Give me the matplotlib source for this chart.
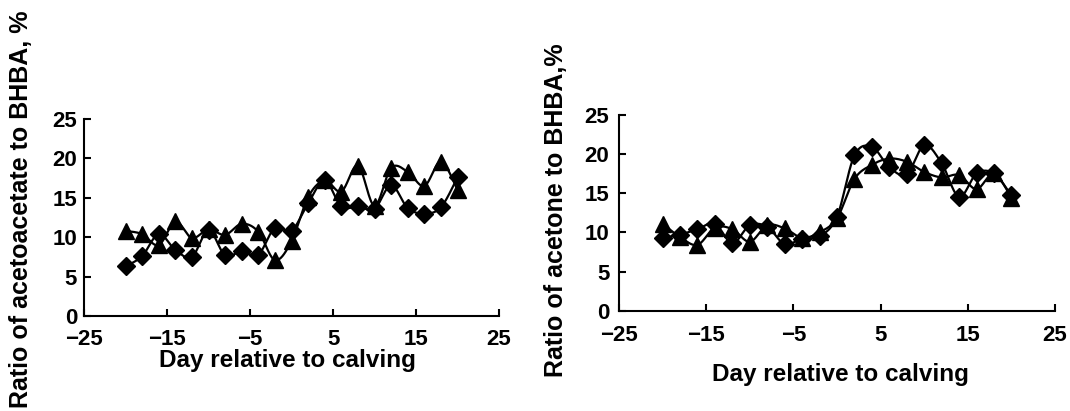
import matplotlib
matplotlib.use('Agg')
import matplotlib.pyplot as plt
import numpy as np

plt.rcParams['font.family'] = ['Liberation Sans', 'DejaVu Sans']
plt.rcParams['font.weight'] = 'bold'

# дни относительно отёла
days = [-20, -18, -16, -14, -12, -10, -8, -6, -4, -2, 0,
        2, 4, 6, 8, 10, 12, 14, 16, 18, 20]

# левая панель: ацетоацетат / BHBA
acac_diamond = [6.3, 7.6, 10.4, 8.4, 7.5, 10.9, 7.7, 8.2, 7.8, 11.2, 10.8,
                14.3, 17.2, 13.9, 13.9, 13.6, 16.6, 13.7, 13.0, 13.8, 17.6]
acac_triangle = [10.8, 10.4, 9.0, 12.0, 9.9, 11.0, 10.3, 11.7, 10.7, 7.1, 9.5,
                 15.1, 17.2, 15.8, 19.1, 14.0, 18.8, 18.3, 16.5, 19.6, 16.0]

# правая панель: ацетон / BHBA
acet_diamond = [9.3, 9.7, 10.4, 11.1, 8.6, 10.9, 10.7, 8.5, 9.2, 9.5, 12.0,
                19.8, 20.9, 18.3, 17.4, 21.1, 18.8, 14.5, 17.5, 17.5, 14.7]
acet_triangle = [11.1, 9.4, 8.4, 10.6, 10.4, 8.8, 10.9, 10.5, 9.3, 10.0, 11.8,
                 16.8, 18.6, 19.4, 19.0, 17.7, 17.0, 17.3, 15.5, 17.5, 14.4]

xticks = [-25, -15, -5, 5, 15, 25]
xtick_labels = ['\u221225', '\u221215', '\u22125', '5', '15', '25']
yticks = [0, 5, 10, 15, 20, 25]


def smooth(x, y, n=20):
    # сглаженная линия как в Excel (Catmull-Rom)
    x = np.asarray(x, float)
    y = np.asarray(y, float)
    px = np.concatenate([[x[0]], x, [x[-1]]])
    py = np.concatenate([[y[0]], y, [y[-1]]])
    xs, ys = [], []
    t = np.linspace(0, 1, n, endpoint=False)
    for i in range(1, len(px) - 2):
        for p, out in ((px, xs), (py, ys)):
            p0, p1, p2, p3 = p[i - 1], p[i], p[i + 1], p[i + 2]
            c = 0.5 * ((2 * p1) + (-p0 + p2) * t
                       + (2 * p0 - 5 * p1 + 4 * p2 - p3) * t ** 2
                       + (-p0 + 3 * p1 - 3 * p2 + p3) * t ** 3)
            out.extend(c)
    xs.append(x[-1])
    ys.append(y[-1])
    return np.array(xs), np.array(ys)


def panel(ax, d_vals, t_vals, ylabel, ylab_pos, xlab_pos, xpad, ypad):
    for vals, m, ms in ((t_vals, '^', 12), (d_vals, 'D', 9.5)):
        sx, sy = smooth(days, vals)
        ax.plot(sx, sy, color='black', lw=1.6)
        ax.plot(days, vals, linestyle='none', marker=m, ms=ms,
                color='black', mec='black')
    ax.set_xlim(-25, 25)
    ax.set_ylim(0, 25)
    ax.set_xticks(xticks)
    ax.set_yticks(yticks)
    ax.set_xticklabels(xtick_labels, fontweight='bold', fontsize=16)
    ax.set_yticklabels([str(v) for v in yticks], fontweight='bold', fontsize=16)
    for s in ('top', 'right'):
        ax.spines[s].set_visible(False)
    for s in ('left', 'bottom'):
        ax.spines[s].set_linewidth(1.5)
    ax.tick_params(direction='in', length=5, width=1.5)
    ax.tick_params(axis='x', pad=xpad)
    ax.tick_params(axis='y', pad=ypad)
    ax.set_xlabel('Day relative to calving', fontsize=17.5, fontweight='bold')
    ax.set_ylabel(ylabel, fontsize=18, fontweight='bold')
    ax.yaxis.set_label_coords(*ylab_pos)
    ax.xaxis.set_label_coords(*xlab_pos)


fig = plt.figure(figsize=(10.7, 4.11), dpi=100)
ax1 = fig.add_axes([0.0785, 0.2311, 0.3879, 0.4793])
ax2 = fig.add_axes([0.5785, 0.2440, 0.4075, 0.4770])

panel(ax1, acac_diamond, acac_triangle, 'Ratio of acetoacetate to BHBA, %',
      (-0.123, 0.543), (0.489, -0.165), 9, 5)
panel(ax2, acet_diamond, acet_triangle, 'Ratio of acetone to BHBA,%',
      (-0.117, 0.514), (0.507, -0.267), 10, 7)

fig.savefig('out.png', dpi=100)
